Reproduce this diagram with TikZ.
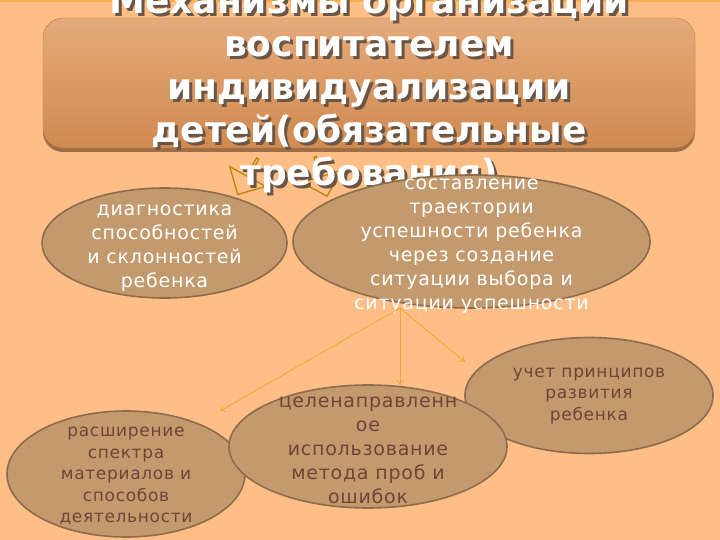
\documentclass[tikz,border=0pt]{standalone}
\usepackage{fontspec}
\setmainfont{DejaVu Sans}
\newfontfamily\bubblefont[LetterSpace=4]{DejaVu Sans}
\newfontfamily\headfont{DejaVu Sans Bold}
\usetikzlibrary{arrows.meta,shapes.geometric,shapes.arrows,shadows}
\definecolor{peach}{HTML}{FFBE86}
\definecolor{topline}{HTML}{F4AE4C}
\definecolor{headtop}{HTML}{E5AA7B}
\definecolor{headbottom}{HTML}{D08A50}
\definecolor{headshade}{HTML}{9E6E48}
\definecolor{textshade}{HTML}{6A5646}
\definecolor{bubblefill}{HTML}{C39A6E}
\definecolor{bubbleline}{HTML}{8C6C4C}
\definecolor{bubbletext}{HTML}{6E4536}
\definecolor{linkorange}{HTML}{F0A636}
\definecolor{hintgold}{HTML}{B8860B}
\tikzset{
  bubble/.style={ellipse, draw=bubbleline, line width=1.6pt, fill=bubblefill, inner sep=0pt},
  lighttext/.style={text=white, align=center, font=\bubblefont\fontsize{19}{24}\selectfont},
  darktext/.style={text=bubbletext, align=center, font=\bubblefont\fontsize{17}{21.5}\selectfont},
  link/.style={draw=linkorange, line width=0.9pt, -{To[length=5pt,width=7pt]}},
  hint/.style={single arrow, draw=hintgold, line width=1.3pt, minimum height=41pt, minimum width=41pt,
    single arrow head extend=10pt, inner sep=0pt}
}

\begin{document}
\begin{tikzpicture}[x=1pt,y=-1pt]
\useasboundingbox (0,0) rectangle (720,540);
\fill[peach] (0,0) rectangle (720,540);
\fill[topline] (0,0) rectangle (720,2);

% heading
\node[draw=headbottom!90!black, rounded corners=20pt, top color=headtop, bottom color=headbottom,
  minimum width=652pt, minimum height=130pt,
  drop shadow={shadow xshift=0pt, shadow yshift=-4pt, fill=headshade, opacity=1}] (head) at (369,83) {};

\node[hint, rotate=-119] (hintL) at (248,176) {};
\node[hint, rotate=-73] (hintR) at (321,176) {};

\node[text=textshade, align=center, font=\headfont\fontsize{36}{43}\selectfont] (titleshade) at (372,93)
  {Механизмы организации\\воспитателем\\индивидуализации\\детей(обязательные\\требования)};
\node[text=white, align=center, font=\headfont\fontsize{36}{43}\selectfont] (title) at (369,90)
  {Механизмы организации\\воспитателем\\индивидуализации\\детей(обязательные\\требования)};

% bubbles
\node[bubble, minimum width=245pt, minimum height=110pt] (diag) at (164.5,243) {};
\node[bubble, minimum width=357pt, minimum height=133pt] (route) at (471.5,241.5) {};
\node[bubble, minimum width=248pt, minimum height=116pt] (rules) at (589,395.5) {};
\node[bubble, minimum width=238pt, minimum height=126pt] (range) at (126,474) {};
\node[bubble, minimum width=278pt, minimum height=123pt] (trial) at (368,446.5) {};

\node[lighttext] (diagtxt) at (164.5,248) {диагностика\\способностей\\и склонностей\\ребенка};
\node[lighttext] (routetxt) at (471.5,246) {составление\\траектории\\успешности ребенка\\через создание\\ситуации выбора и\\ситуации успешности};
\node[darktext] (rulestxt) at (589,396) {учет принципов\\развития\\ребенка};
\node[lighttext, text=bubbletext] (trialtxt) at (368,450) {целенаправленн\\ое\\использование\\метода проб и\\ошибок};
\node[darktext] (rangetxt) at (126,476) {расширение\\спектра\\материалов и\\способов\\деятельности};

% links
\coordinate (hub) at (400,308);
\coordinate (toRange) at (220,411);
\coordinate (toTrial) at (400,385);
\coordinate (toRules) at (465,362);
\draw[link] (hub) -- (toRange);
\draw[link] (hub) -- (toTrial);
\draw[link] (hub) -- (toRules);
\end{tikzpicture}
\end{document}
